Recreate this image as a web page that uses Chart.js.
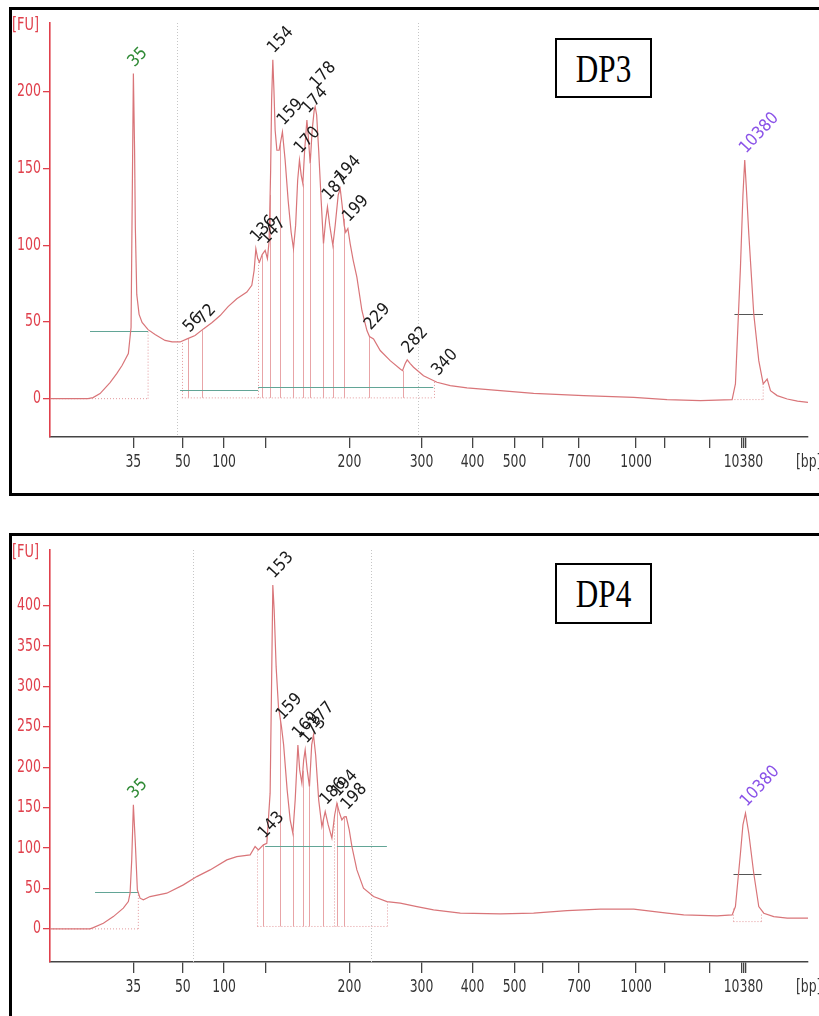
<!DOCTYPE html>
<html>
<head>
<meta charset="utf-8">
<script src="https://cdn.jsdelivr.net/npm/chart.js@4.4.1/dist/chart.umd.min.js"></script>
<style>
  html, body { margin: 0; padding: 0; background: #fff; width: 819px; height: 1016px; overflow: hidden; }
  .frame { position: absolute; border: 3px solid #000; box-sizing: border-box; }
  .tag { position: absolute; border: 2px solid #000; box-sizing: border-box; background: #fff;
         display: flex; align-items: center; justify-content: center; }
  .tag span { font-family: "Liberation Serif", "Times New Roman", serif; font-size: 40px;
              display: inline-block; transform: scaleX(0.78); }
  canvas { position: absolute; left: 0; }
</style>
</head>
<body>
<div class="frame" style="left:9px;top:7px;width:830px;height:489px"></div>
<div class="frame" style="left:9px;top:533px;width:830px;height:500px"></div>
<canvas id="dp3" width="819" height="500" style="top:0"></canvas>
<canvas id="dp4" width="819" height="496" style="top:520px"></canvas>
<div class="tag" style="left:555px;top:38px;width:97px;height:60px"><span>DP3</span></div>
<div class="tag" style="left:555px;top:563px;width:97px;height:61px"><span>DP4</span></div>

<script>
// x axis is migration time (s); ladder sizes in bp are only tick labels
const xTickPos = [31.1, 37.7, 43.2, 48.8, 59.9, 69.5, 76.3, 81.9, 85.7, 90.5, 98.1, 101.9, 107.9, 112.15, 112.4, 112.65];
const xTickLabels = ['35', '50', '100', '', '200', '300', '400', '500', '', '700', '1000', '', '', '', '10380', ''];

// DP3 electropherogram
const dp3Time = [20, 25.07, 25.73, 26.67, 28.0, 28.89, 29.6, 30.44, 30.8, 31.11,
  31.27, 31.37, 31.56, 31.87, 32.27, 33.07, 34.0, 35.33, 36.27, 37.33,
  38.27, 39.33, 40.44, 41.6, 42.67, 43.73, 44.89, 46.23, 46.89, 47.2,
  47.43, 47.67, 47.91, 48.27, 48.67, 48.97, 49.2, 49.4, 49.53, 49.69,
  49.84, 50.0, 50.23, 50.53, 50.97, 51.33, 51.73, 52.13, 52.44, 52.73,
  53.0, 53.24, 53.47, 53.69, 53.93, 54.23, 54.4, 54.67, 54.93, 55.2,
  55.33, 55.53, 55.8, 56.13, 56.44, 56.73, 56.97, 57.27, 57.69, 58.0,
  58.4, 58.67, 58.93, 59.2, 59.4, 59.69, 60.0, 60.4, 60.89, 61.56,
  62.23, 62.57, 63.11, 64.0, 65.33, 66.67, 66.97, 67.33, 67.6, 68.0,
  68.44, 69.77, 71.56, 73.33, 75.56, 80.0, 84.44, 91.11, 97.78, 102.22,
  106.67, 110.89, 111.33, 112.0, 112.33, 112.57, 112.8, 113.11, 113.77, 114.44,
  115.03, 115.56, 116.0, 116.89, 118.23, 119.6, 121];
const dp3Fu = [0, 0, 0.7, 3.3, 10.5, 16.3, 21.6, 29.4, 46.4, 212,
  162, 112, 68, 55, 49.7, 45, 41.8, 38, 37, 37,
  39, 41.2, 45.5, 49.7, 54.2, 60, 65.2, 69.5, 73.9, 83.7,
  97.8, 91.5, 89, 94, 96.7, 91.3, 103, 149, 195, 221,
  201, 175, 162, 162, 174, 155.6, 129.4, 108.5, 97.8, 113,
  142.5, 155.6, 145.8, 140.3, 162, 181.7, 172, 153.4, 175, 188,
  190.4, 185, 162, 129.4, 101, 116.3, 125, 113, 100, 113,
  132.7, 137, 126, 113, 108.5, 111, 101, 90.2, 79.3, 57.5,
  44.4, 40.5, 39, 31.4, 24.8, 19.4, 18.3, 22.9, 25.3, 22.9,
  20.5, 15, 10.7, 8.5, 7, 5.2, 3.5, 2, 0.9, -0.6,
  -1.3, -0.6, 9.6, 85.8, 132.7, 155.6, 136, 107.6, 55.4, 24.8,
  9.6, 12.8, 5.2, 2, -0.2, -1.6, -2.4];
const dp3PeakNames = ['35', '56', '72', '136', '147', '154', '159', '170', '174', '178', '187', '194', '199', '229', '282', '340', '10380'];
const dp3PeakTime = [31.11, 38.44, 40.23, 47.43, 48.67, 49.69, 50.97, 53.24, 54.23, 55.33, 56.97, 58.67, 59.69, 62.57, 67.6, 71.56, 112.57];
const dp3PeakFu = [212, 39, 44.5, 97.8, 96.7, 221, 174, 155.6, 181.7, 198, 125, 137, 111, 40.5, 25.3, 10.7, 155.6];
const dp3Bounds = [38.44, 40.23, 48.23, 49.33, 50.67, 52.44, 53.69, 54.67, 56.44, 57.69, 59.11, 62.53, 66.97];
const dp3Edges = [37.56, 47.77, 71.11];
const dp3Markers = [36.93, 69.07];
const dp3Levels = [[25.33, 33.07, 44.4], [37.33, 47.73, 5.9], [47.73, 71.07, 7.4]];
const dp3UpperLevel = [111.2, 115.0, 55];
const dp3Dotted = [[20, 0, 33.07, 0], [33.07, 0, 33.07, 45], [37.56, 0.5, 71.11, 0.5],
  [111.2, -0.6, 115.03, -0.6], [115.03, -0.6, 115.03, 9.6]];
const dp3YTicks = [0, 50, 100, 150, 200];

// DP4 electropherogram
const dp4Time = [20, 25.33, 25.77, 27.11, 28.44, 29.77, 30.44, 30.67, 30.89, 31.11,
  31.37, 31.64, 32.0, 32.44, 33.33, 35.56, 37.77, 39.56, 41.33, 43.56,
  44.89, 46.67, 47.33, 47.77, 48.44, 48.89, 49.33, 49.53, 49.69, 49.87,
  50.13, 50.44, 50.84, 51.13, 51.6, 52.0, 52.36, 52.67, 53.03, 53.27,
  53.56, 53.8, 54.0, 54.27, 54.57, 54.87, 55.11, 55.4, 55.8, 56.23,
  56.67, 57.07, 57.56, 57.93, 58.23, 58.53, 58.89, 59.2, 59.47, 59.87,
  60.23, 60.89, 61.77, 63.11, 64.89, 66.67, 68.89, 71.11, 74.67, 80.0,
  84.44, 88.89, 93.33, 97.78, 102.22, 104.44, 108.89, 110.89, 111.33, 112.0,
  112.33, 112.67, 113.11, 113.77, 114.44, 115.11, 116.44, 118.23, 121];
const dp4Fu = [0, 0, 1.6, 7, 15.2, 25.6, 33.8, 44.2, 85.4, 153.5,
  106, 48.3, 38, 35.9, 40, 44.2, 54.5, 64.7, 73, 85.4,
  89.5, 91.6, 101.9, 97.8, 104, 106, 168, 308, 425.7, 394.8,
  324.6, 275, 250.4, 227.7, 172, 135, 118.4, 159.7, 227.7, 196.8,
  180.3, 209, 221.5, 196.8, 176, 227.7, 240, 215, 159.7, 126.6,
  145.2, 128.7, 112.3, 141, 155.6, 144.8, 134.9, 138.6, 139, 122.5,
  101.9, 73, 50.4, 40, 33.8, 31.8, 27.6, 23.5, 19.4, 18.6,
  19.4, 22.6, 24.4, 24.4, 19.4, 17.3, 16.1, 17.3, 27.6, 93.7,
  128.7, 143.2, 118.4, 68.9, 27.6, 19.4, 15.2, 13.2, 13.2];
const dp4PeakNames = ['35', '143', '153', '159', '169', '173', '177', '186', '194', '198', '10380'];
const dp4PeakTime = [31.11, 48.44, 49.69, 50.84, 53.03, 54.0, 55.11, 56.67, 58.23, 59.47, 112.67];
const dp4PeakFu = [153.5, 104, 425.7, 250.4, 227.7, 221.5, 240, 145.2, 155.6, 139, 143.2];
const dp4Bounds = [48.44, 50.67, 52.36, 53.69, 54.57, 56.44, 58.23, 59.11];
const dp4Edges = [47.64, 57.87, 64.89];
const dp4Markers = [39.07, 62.8];
const dp4Levels = [[26.0, 31.77, 46], [48.67, 57.56, 102.7], [58.23, 64.89, 102.7]];
const dp4UpperLevel = [111.07, 114.8, 67.6];
const dp4Dotted = [[20, 0, 31.77, 0], [31.77, 0, 31.77, 46], [47.64, 3, 64.89, 3],
  [111.07, 9, 114.8, 9], [111.07, 9, 111.07, 27.6], [114.8, 9, 114.8, 19.4]];
const dp4YTicks = [0, 50, 100, 150, 200, 250, 300, 350, 400];

const RED = '#e0404c';
const TRACE = '#d97579';

function interp(ts, vs, t) {
  for (let i = 1; i < ts.length; i++) {
    if (ts[i] >= t) {
      const k = (t - ts[i - 1]) / (ts[i] - ts[i - 1]);
      return vs[i - 1] + k * (vs[i] - vs[i - 1]);
    }
  }
  return vs[vs.length - 1];
}

function seg(ctx, x0, y0, x1, y1) {
  ctx.beginPath();
  ctx.moveTo(x0, y0);
  ctx.lineTo(x1, y1);
  ctx.stroke();
}

// text squeezed horizontally, like the scanned original
function squeezed(ctx, text, px, py, align, sx) {
  ctx.save();
  ctx.translate(px, py);
  ctx.scale(sx, 1);
  ctx.textAlign = align;
  ctx.textBaseline = 'middle';
  ctx.fillText(text, 0, 0);
  ctx.restore();
}

function electroPlugin(d) {
  return {
    id: 'electro',
    beforeDatasetsDraw(chart) {
      const { ctx, chartArea: a, scales: { x, y } } = chart;
      ctx.save();
      ctx.lineWidth = 1;

      // lower / upper marker range lines
      ctx.strokeStyle = '#c6c6c6';
      ctx.setLineDash([1, 2]);
      d.markers.forEach(t => {
        const px = Math.round(x.getPixelForValue(t)) + 0.5;
        seg(ctx, px, a.top, px, a.bottom);
      });

      // dotted peak area outlines
      ctx.strokeStyle = '#e39a9d';
      d.dotted.forEach(([t0, f0, t1, f1]) => {
        seg(ctx, x.getPixelForValue(t0), y.getPixelForValue(f0), x.getPixelForValue(t1), y.getPixelForValue(f1));
      });
      d.edges.forEach(t => {
        const px = Math.round(x.getPixelForValue(t)) + 0.5;
        seg(ctx, px, y.getPixelForValue(d.base), px, y.getPixelForValue(interp(d.time, d.fu, t)));
      });
      ctx.setLineDash([]);

      // peak boundary lines
      ctx.strokeStyle = '#e8a4a7';
      d.bounds.forEach(t => {
        const px = Math.round(x.getPixelForValue(t)) + 0.5;
        seg(ctx, px, y.getPixelForValue(d.base), px, y.getPixelForValue(interp(d.time, d.fu, t)));
      });

      // baseline levels
      ctx.strokeStyle = '#62a596';
      d.levels.forEach(([t0, t1, f]) => {
        const py = Math.round(y.getPixelForValue(f)) + 0.5;
        seg(ctx, x.getPixelForValue(t0), py, x.getPixelForValue(t1), py);
      });
      ctx.strokeStyle = '#555';
      const [u0, u1, uf] = d.upper;
      const upy = Math.round(y.getPixelForValue(uf)) + 0.5;
      seg(ctx, x.getPixelForValue(u0), upy, x.getPixelForValue(u1), upy);
      ctx.restore();
    },
    afterDraw(chart) {
      const { ctx, chartArea: a, scales: { x, y } } = chart;
      ctx.save();

      // y tick labels
      ctx.fillStyle = RED;
      ctx.font = '17px "DejaVu Sans"';
      d.yTicks.forEach(v => squeezed(ctx, String(v), y.right - 9, y.getPixelForValue(v), 'right', 0.74));
      squeezed(ctx, '[FU]', 12, a.top + 3, 'left', 0.76);

      // x tick labels
      ctx.fillStyle = '#333';
      ctx.font = '18px "DejaVu Sans"';
      xTickPos.forEach((t, i) => {
        if (xTickLabels[i]) squeezed(ctx, xTickLabels[i], x.getPixelForValue(t), x.top + 25, 'center', 0.69);
      });
      squeezed(ctx, '[bp]', 796, x.top + 25, 'left', 0.69);

      // peak labels
      ctx.font = '17px "DejaVu Sans"';
      d.peakNames.forEach((name, i) => {
        const px = x.getPixelForValue(d.peakTime[i]);
        const py = y.getPixelForValue(d.peakFu[i]);
        ctx.fillStyle = name === '35' ? '#2f8a35' : (name === '10380' ? '#8a52e8' : '#1a1a1a');
        ctx.save();
        ctx.translate(px - 2, py - 9);
        ctx.rotate(-47 * Math.PI / 180);
        ctx.scale(0.9, 1);
        ctx.textAlign = 'left';
        ctx.textBaseline = 'middle';
        ctx.fillText(name, 0, 0);
        ctx.restore();
      });
      ctx.restore();
    }
  };
}

function makeChart(id, d) {
  return new Chart(document.getElementById(id), {
    type: 'line',
    data: {
      datasets: [{
        data: d.time.map((t, i) => ({ x: t, y: d.fu[i] })),
        borderColor: TRACE,
        borderWidth: 1.2,
        pointRadius: 0,
        tension: 0
      }]
    },
    options: {
      responsive: false,
      animation: false,
      layout: { padding: { left: 10, right: 11, top: d.padTop, bottom: d.padBottom } },
      plugins: { legend: { display: false }, tooltip: { enabled: false } },
      scales: {
        x: {
          type: 'linear',
          min: 20,
          max: 121,
          afterBuildTicks: s => { s.ticks = xTickPos.map(v => ({ value: v })); },
          afterFit: s => { s.height = 30; },
          ticks: { display: false },
          grid: { drawOnChartArea: false, tickLength: 11, color: '#444', lineWidth: 1.3 },
          border: { color: '#444', width: 1.6 }
        },
        y: {
          min: d.yMin,
          max: d.yMax,
          afterBuildTicks: s => { s.ticks = d.yTicks.map(v => ({ value: v })); },
          afterFit: s => { s.width = 40; },
          ticks: { display: false },
          grid: { drawOnChartArea: false, tickLength: 7, color: RED, lineWidth: 1.3 },
          border: { color: RED, width: 1.6 }
        }
      }
    },
    plugins: [electroPlugin(d)]
  });
}

makeChart('dp3', {
  time: dp3Time, fu: dp3Fu, peakNames: dp3PeakNames, peakTime: dp3PeakTime, peakFu: dp3PeakFu,
  bounds: dp3Bounds, edges: dp3Edges, markers: dp3Markers, levels: dp3Levels, upper: dp3UpperLevel,
  dotted: dp3Dotted, yTicks: dp3YTicks, base: 0.5, yMin: -25, yMax: 245, padTop: 23, padBottom: 33
});
makeChart('dp4', {
  time: dp4Time, fu: dp4Fu, peakNames: dp4PeakNames, peakTime: dp4PeakTime, peakFu: dp4PeakFu,
  bounds: dp4Bounds, edges: dp4Edges, markers: dp4Markers, levels: dp4Levels, upper: dp4UpperLevel,
  dotted: dp4Dotted, yTicks: dp4YTicks, base: 3, yMin: -41, yMax: 469, padTop: 30, padBottom: 24
});
</script>
</body>
</html>
